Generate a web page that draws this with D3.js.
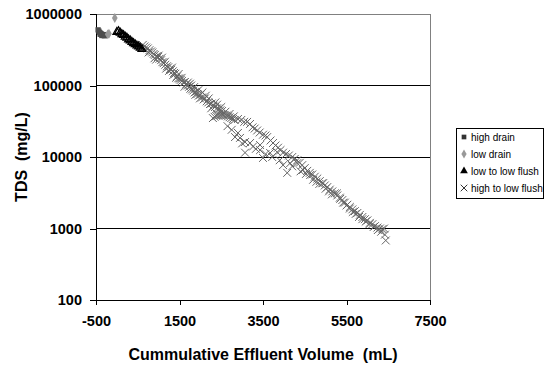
<!DOCTYPE html>
<html>
<head>
<meta charset="utf-8">
<script src="https://cdn.jsdelivr.net/npm/d3@7"></script>
<style>
  body { margin: 0; background: #fff; }
  svg { font-family: "Liberation Sans", Arial, sans-serif; }
  .tick text { font-weight: 700; font-size: 14.5px; font-family: "Liberation Sans", Arial, sans-serif; }
</style>
</head>
<body>
<div class="container"></div>
<script>
// values: [volume mL, TDS mg/L]
const highDrain = [
  [-450, 600000], [-430, 575000], [-410, 550000], [-390, 535000], [-370, 525000],
  [-345, 515000], [-320, 510000], [-295, 505000], [-270, 510000], [-245, 515000],
  [-400, 520000], [-360, 500000], [-300, 495000]
];
const lowDrain = [
  [-220, 520000], [-190, 530000], [-50, 880000]
];
const lowToLow = [
  [0, 560000], [40, 575000], [80, 545000], [120, 520000], [160, 505000], [200, 480000],
  [240, 465000], [280, 440000], [320, 425000], [360, 405000], [400, 390000], [440, 375000],
  [480, 360000], [520, 350000], [560, 335000], [600, 322000]
];
const highToLow = [
  [620, 370000], [660, 352000], [700, 340000], [740, 330000], [780, 312000], [820, 300000],
  [850, 290000], [880, 276000], [910, 268000], [950, 256000], [985, 250000], [1020, 236000],
  [1060, 226000], [1090, 212000], [1120, 205000], [1160, 195000], [1200, 186000], [1230, 180000],
  [1270, 170000], [1300, 166000], [1340, 158000], [1370, 150000], [1400, 146000], [1440, 134000],
  [1470, 126000], [1500, 124000], [1530, 120000], [1560, 116000], [1600, 110000], [1630, 112000],
  [1660, 104000], [1700, 100000], [1730, 96000], [1760, 90000], [1800, 88000], [1830, 85000],
  [1860, 80000], [1900, 82000], [1930, 76000], [1960, 72000], [2000, 74000], [2040, 68000],
  [2080, 64000], [2110, 66000], [2150, 60000], [2190, 58000], [2230, 55000], [2270, 56000],
  [2310, 52000], [2350, 50000], [2400, 48000], [2440, 47000], [2480, 45000], [2520, 44000],
  [900, 240000], [1000, 262000], [1150, 215000], [1250, 160000], [1350, 140000], [1550, 128000],
  [1700, 110000], [1750, 106000], [1850, 95000], [1950, 86000], [2050, 80000], [2200, 66000],
  [2400, 54000],
  [760, 290000], [940, 230000], [1080, 245000], [1180, 172000], [1320, 178000], [1420, 128000],
  [1480, 145000], [1620, 96000], [1780, 100000], [1880, 74000], [1990, 66000], [2130, 72000],
  [2260, 48000], [2360, 58000], [2500, 50000],
  [2300, 35000], [2340, 36500], [2380, 37500], [2420, 38000], [2460, 38500], [2500, 38800],
  [2540, 38800], [2580, 38500], [2620, 38000], [2660, 37000], [2700, 36000], [2740, 35000],
  [2780, 34000], [2820, 33000],
  [2600, 43000], [2700, 40000], [2800, 37000], [2900, 34000], [2980, 33000], [3050, 31000],
  [3120, 31000], [3190, 29000], [3250, 26000], [3300, 25000], [3360, 23500], [3420, 22000],
  [3500, 20500], [3560, 20000], [3600, 19000], [3680, 17000], [3740, 15700], [3800, 14500],
  [3860, 13500], [3920, 12500], [3980, 11500], [4050, 11000], [4120, 10500], [4200, 10000],
  [4260, 9400], [4320, 9000], [4380, 8300], [4440, 7700], [4500, 7000], [4560, 6400],
  [4620, 6000], [4680, 5700], [4740, 5300], [4800, 5000], [4860, 4600], [4920, 4300],
  [4980, 4000], [5040, 3800], [5100, 3500], [5160, 3300], [5220, 3100], [5280, 2900],
  [5340, 2700], [5400, 2500], [5460, 2300], [5520, 2150], [5580, 2000], [5640, 1850],
  [5700, 1750], [5760, 1650], [5820, 1550], [5880, 1450], [5940, 1350], [6000, 1300],
  [6060, 1200], [6120, 1150], [6180, 1080], [6240, 1030], [6300, 1000], [6360, 980],
  [6400, 1000], [6420, 820], [6440, 680],
  [2650, 27000], [2750, 24000], [2830, 19000], [2900, 21700], [2950, 18500], [3000, 15500],
  [3070, 16200], [3070, 11500], [3190, 15700], [3260, 14000], [3330, 13000], [3430, 12500],
  [3430, 14700], [3500, 9700], [3560, 11000], [3670, 11400], [3720, 10000], [3840, 11700],
  [3900, 9000], [3980, 7700], [4080, 6000], [4150, 8200], [4200, 7400], [4320, 8200],
  [4400, 6300], [4460, 6600], [4530, 5800], [4630, 5600], [4700, 4800], [4780, 4500],
  [4850, 4200], [4940, 4300], [5000, 3600], [5080, 3300], [5150, 3000], [5270, 3100],
  [5350, 2600], [5420, 2300], [5500, 2100], [5580, 1900], [5650, 1700], [5720, 1600],
  [5800, 1450], [5880, 1350], [5960, 1250], [6050, 1150], [6150, 1050], [6250, 950],
  [6330, 900]
];

const xTicks = [-500, 1500, 3500, 5500, 7500];
const yTicks = [100, 1000, 10000, 100000, 1000000];
const seriesNames = ['high drain', 'low drain', 'low to low flush', 'high to low flush'];

const width = 545, height = 367;
const margin = { left: 96, right: 115, top: 14, bottom: 67 };

const svg = d3.select('.container')
  .append('svg')
  .attr('width', width)
  .attr('height', height);

const x = d3.scaleLinear()
  .domain([-500, 7500])
  .range([margin.left, width - margin.right]);

const y = d3.scaleLog()
  .domain([100, 1000000])
  .range([height - margin.bottom, margin.top]);

// gridlines
svg.append('g')
  .selectAll('line')
  .data(yTicks.slice(1))
  .enter()
  .append('line')
  .attr('x1', x(-500))
  .attr('x2', x(7500))
  .attr('y1', d => y(d))
  .attr('y2', d => y(d))
  .attr('stroke', d => d === 1000000 ? '#808080' : '#000')
  .attr('stroke-width', 1)
  .attr('shape-rendering', 'crispEdges');

// plot area right edge
svg.append('line')
  .attr('x1', x(7500)).attr('x2', x(7500))
  .attr('y1', y(1000000)).attr('y2', y(100))
  .attr('stroke', '#808080')
  .attr('shape-rendering', 'crispEdges');

const xAxis = d3.axisBottom(x)
  .tickValues(xTicks)
  .tickSize(5)
  .tickFormat(d => String(d));

const yAxis = d3.axisLeft(y)
  .tickValues(yTicks)
  .tickSize(6)
  .tickFormat(d => String(d));

const gx = svg.append('g')
  .attr('transform', `translate(0,${y(100)})`)
  .call(xAxis);
const gy = svg.append('g')
  .attr('transform', `translate(${x(-500)},0)`)
  .call(yAxis);

[gx, gy].forEach(g => {
  g.selectAll('path, line').attr('stroke', '#000').attr('shape-rendering', 'crispEdges');
  g.selectAll('text').attr('fill', '#000');
});
gx.select('.domain').attr('d', `M${x(-500)},0H${x(7500)}`);
gx.selectAll('text').attr('dy', '1.25em');
gy.selectAll('text').attr('x', -14);

// markers
const sym = (type, size) => d3.symbol().type(type).size(size);

svg.append('g')
  .selectAll('path')
  .data(highToLow)
  .enter()
  .append('path')
  .attr('transform', d => `translate(${x(d[0])},${y(d[1])})`)
  .attr('d', sym(d3.symbolX, 42))
  .attr('fill', 'none')
  .attr('stroke', '#666')
  .attr('stroke-width', 1);

svg.append('g')
  .selectAll('path')
  .data(highDrain)
  .enter()
  .append('path')
  .attr('transform', d => `translate(${x(d[0])},${y(d[1])})`)
  .attr('d', sym(d3.symbolSquare, 28))
  .attr('fill', '#4d4d4d');

svg.append('g')
  .selectAll('path')
  .data(lowDrain)
  .enter()
  .append('path')
  .attr('transform', d => `translate(${x(d[0])},${y(d[1])})`)
  .attr('d', sym(d3.symbolDiamond, 28))
  .attr('fill', '#999');

svg.append('g')
  .selectAll('path')
  .data(lowToLow)
  .enter()
  .append('path')
  .attr('transform', d => `translate(${x(d[0])},${y(d[1])})`)
  .attr('d', sym(d3.symbolTriangle, 26))
  .attr('fill', 'none')
  .attr('stroke', '#000')
  .attr('stroke-width', 1.3);

// axis titles
svg.append('text')
  .attr('x', (x(-500) + x(7500)) / 2)
  .attr('y', 360)
  .attr('text-anchor', 'middle')
  .style('font-size', '16px')
  .style('font-weight', 'bold')
  .style('white-space', 'pre')
  .text('Cummulative Effluent Volume  (mL)');

svg.append('text')
  .attr('transform', `translate(27,${(y(100) + y(1000000)) / 2}) rotate(-90)`)
  .attr('text-anchor', 'middle')
  .style('font-size', '16px')
  .style('font-weight', 'bold')
  .style('white-space', 'pre')
  .text('TDS  (mg/L)');

// legend
const legend = svg.append('g').attr('transform', 'translate(456,128)');
legend.append('rect')
  .attr('x', 0.5).attr('y', 0.5)
  .attr('width', 87).attr('height', 70)
  .attr('fill', '#fff')
  .attr('stroke', '#000');

const legendSym = [
  { type: d3.symbolSquare, size: 22, fill: '#333', stroke: 'none' },
  { type: d3.symbolDiamond, size: 24, fill: '#999', stroke: 'none' },
  { type: d3.symbolTriangle, size: 26, fill: '#000', stroke: 'none' },
  { type: d3.symbolX, size: 30, fill: 'none', stroke: '#333' }
];

const item = legend.selectAll('g.item')
  .data(seriesNames)
  .enter()
  .append('g')
  .attr('class', 'item')
  .attr('transform', (d, i) => `translate(0,${9 + i * 17})`);

item.append('path')
  .attr('transform', 'translate(8,0)')
  .attr('d', (d, i) => sym(legendSym[i].type, legendSym[i].size)())
  .attr('fill', (d, i) => legendSym[i].fill)
  .attr('stroke', (d, i) => legendSym[i].stroke);

item.append('text')
  .attr('x', 15)
  .attr('dy', '0.35em')
  .style('font-size', '10px')
  .text(d => d);
</script>
</body>
</html>
